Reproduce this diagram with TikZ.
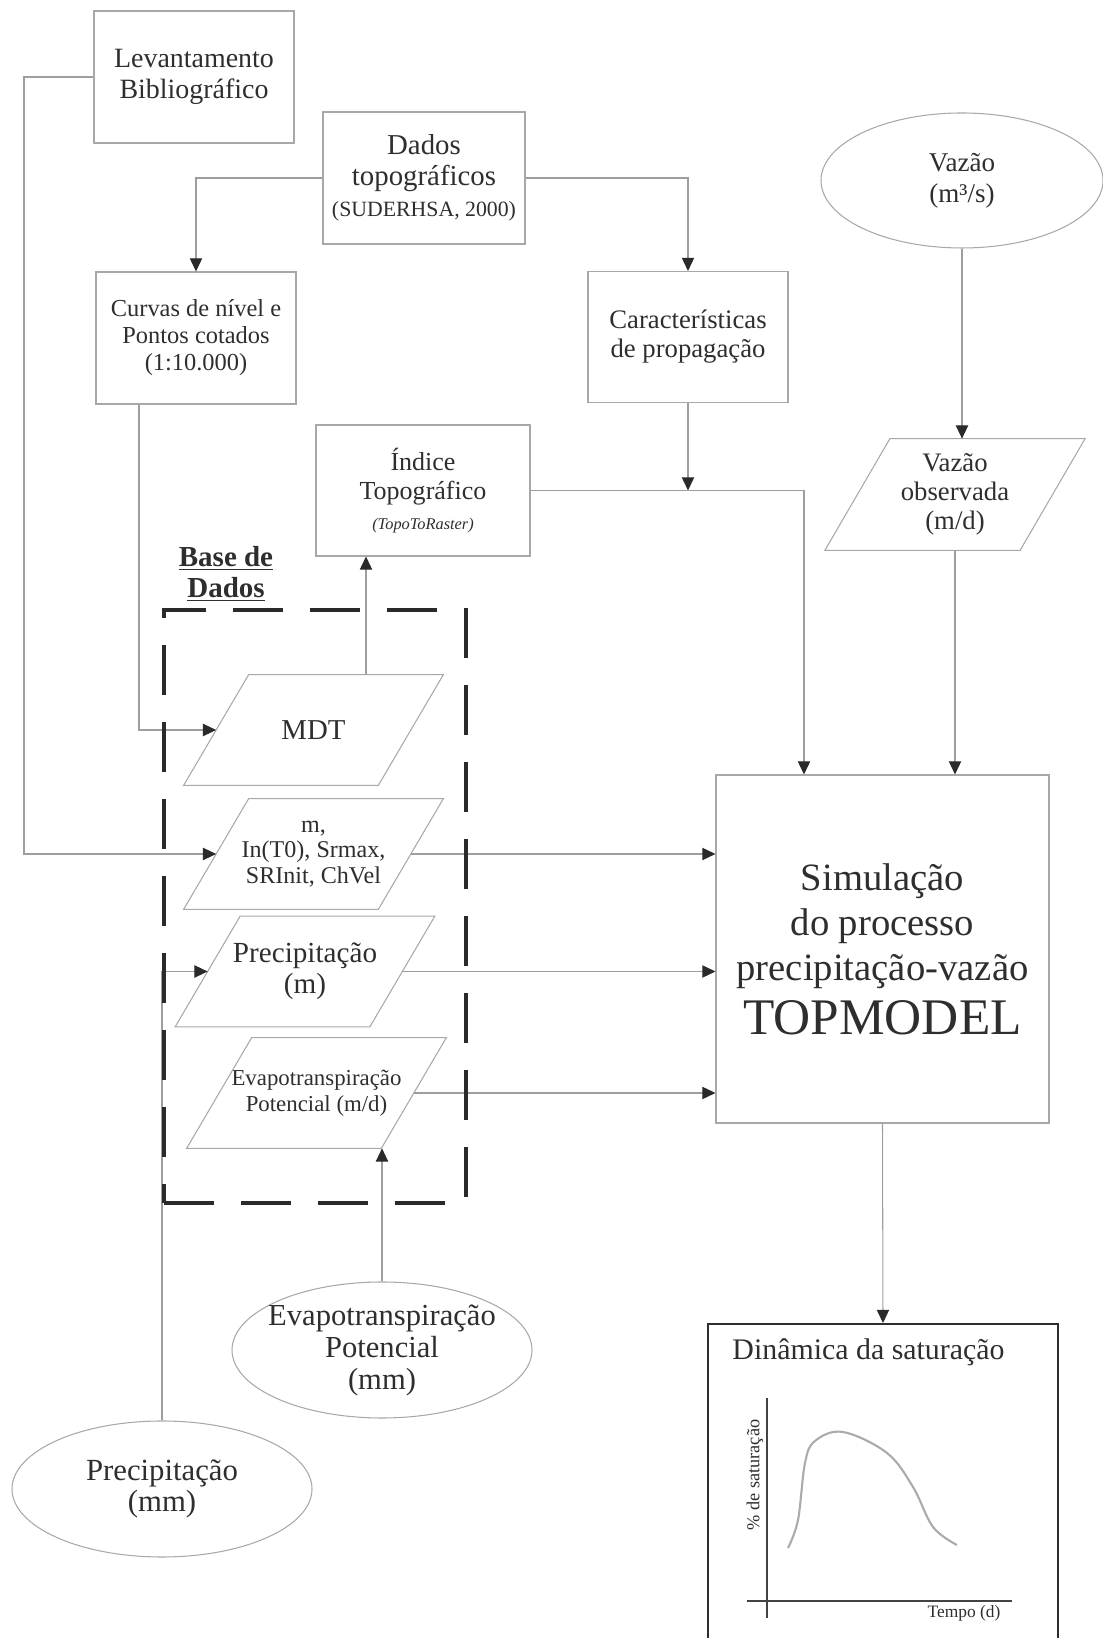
\documentclass[tikz,border=0pt]{standalone}
\usepackage{fontspec}
\setmainfont{Liberation Serif}
\usetikzlibrary{arrows.meta, shapes.geometric, calc}
\definecolor{ink}{HTML}{2E2E2E}
\definecolor{boxgray}{HTML}{A8A8A8}
\definecolor{linegray}{HTML}{9E9E9E}
\definecolor{tipdark}{HTML}{2A2A2A}
\definecolor{curvegray}{HTML}{ABABAB}
\newcommand{\fsz}[2]{\fontsize{#1}{#2}\selectfont}
% parallelogram drawn round a data node
\newcommand{\slantframe}[1]{\draw[lean] ([xshift=-0.65cm]#1.south west) -- ([xshift=-0.65cm]#1.south east)
  -- ([xshift=0.65cm]#1.north east) -- ([xshift=0.65cm]#1.north west) -- cycle;}
\tikzset{
  proc/.style={rectangle, draw=boxgray, line width=0.6pt, text=ink, align=center, inner sep=0pt},
  datain/.style={rectangle, text=ink, align=center, inner sep=0pt,
                 minimum width=3.88cm, minimum height=2.2cm},
  source/.style={ellipse, draw=boxgray, line width=0.6pt, text=ink, align=center, inner sep=0pt},
  flow/.style={-{Triangle[length=7.5pt, width=7pt, color=tipdark]}, draw=linegray, line width=0.6pt},
  dbframe/.style={rectangle, draw=tipdark, line width=2pt, dash pattern=on 1cm off 0.54cm},
  result/.style={rectangle, draw=ink, line width=1.4pt},
  chartaxis/.style={draw=ink!90, line width=0.9pt},
  lean/.style={draw=boxgray, line width=0.6pt},
  lbl/.style={text=ink, align=center, inner sep=0pt},
}
\begin{document}
\begin{tikzpicture}
  \useasboundingbox (0,0) rectangle (22.04,32.76);

  % --- top boxes ---
  \node[proc, minimum width=4.0cm, minimum height=2.64cm, font=\fsz{15.9}{17.8}] (lev) at (3.88,31.22)
    {Levantamento\\ Bibliográfico};
  \node[proc, minimum width=4.04cm, minimum height=2.64cm, font=\fsz{16.4}{17.8}] (dados) at (8.48,29.20)
    {Dados\\ topográficos\\ {\fsz{12.4}{13}(SUDERHSA, 2000)}};
  \node[proc, minimum width=4.0cm, minimum height=2.64cm, font=\fsz{13.9}{15.4}] (curvas) at (3.92,26.00)
    {Curvas de nível e\\ Pontos cotados\\ (1:10.000)};
  \node[proc, minimum width=4.0cm, minimum height=2.62cm, font=\fsz{15.2}{16.6}] (carac) at (13.76,26.02)
    {Características\\ de propagação};
  \node[proc, minimum width=4.28cm, minimum height=2.62cm, font=\fsz{14.8}{17}] (idx) at (8.46,22.95)
    {Índice\\ Topográfico\\ {\fsz{9.3}{11}\itshape(TopoToRaster)}};
  \node[source, minimum width=5.64cm, minimum height=2.70cm, font=\fsz{15.4}{17.8}] (vaz) at (19.24,29.15)
    {Vazão\\ (m³/s)};
  \node[datain, minimum width=3.89cm, minimum height=2.22cm, font=\fsz{15.2}{16.6}] (vobs) at (19.10,22.87)
    {Vazão\\ observada\\ (m/d)};
  \slantframe{vobs}

  % --- base de dados ---
  \node[lbl, font=\fsz{16.5}{18}\bfseries] (basetit) at (4.52,21.28) {\underline{Base de}\\ \underline{Dados}};
  \node[datain, font=\fsz{16.4}{18}] (mdt) at (6.27,18.16) {MDT};
  \node[datain, font=\fsz{13.7}{14.6}] (mpar) at (6.27,15.68) {m,\\ In(T0), Srmax,\\ SRInit, ChVel};
  \node[datain, font=\fsz{16.6}{17.8}] (ppar) at (6.10,13.33) {Precipitação\\ (m)};
  \node[datain, font=\fsz{13}{14.8}] (epar) at (6.33,10.90) {Evapotranspiração\\ Potencial (m/d)};
  \foreach \n in {mdt, mpar, ppar, epar} {\slantframe{\n}}

  % --- model and result ---
  \node[proc, minimum width=6.66cm, minimum height=6.96cm, font=\fsz{22}{25.6}] (sim) at (17.65,13.78)
    {Simulação\\ do processo\\ precipitação-vazão\\[5pt] {\fsz{29.2}{26}TOPMODEL}};
  \node[result, minimum width=7.0cm, minimum height=6.8cm, anchor=north] (dyn) at (17.66,6.30) {};
  \node[lbl, font=\fsz{17}{19}] (dyntit) at (17.37,5.72) {Dinâmica da saturação};

  % --- sources below ---
  \node[source, minimum width=6.0cm, minimum height=2.72cm] (eva) at (7.64,5.76) {};
  \node[lbl, font=\fsz{17.4}{18.2}] (evatxt) at (eva) {Evapotranspiração\\ Potencial\\ (mm)};
  \node[source, minimum width=6.0cm, minimum height=2.72cm, font=\fsz{17.5}{17.6}] (prec) at (3.24,2.98)
    {Precipitação\\ (mm)};

  % --- connectors ---
  \coordinate (levbend) at (0.48,31.22);
  \draw[flow] (lev.west) -- (levbend) |- (mpar.west);
  \draw[flow] (dados.west) -| (curvas.north);
  \draw[flow] (dados.east) -| (carac.north);
  \draw[flow] ([xshift=-1.14cm]curvas.south) |- (mdt.west);
  \draw[flow] (carac.south) -- (carac.south |- idx.east);
  \draw[flow] (idx.east) -| ([xshift=-1.57cm]sim.north);
  \draw[flow] ([xshift=1.05cm]mdt.north) -- ([xshift=1.05cm]mdt.north |- idx.south);
  \draw[flow] (vaz.south) -- (vaz.south |- vobs.north);
  \draw[flow] (vobs.south) -- (vobs.south |- sim.north);
  \draw[flow] (mpar.east) -- (mpar.east -| sim.west);
  \draw[flow] (ppar.east) -- (ppar.east -| sim.west);
  \draw[flow] (epar.east) -- (epar.east -| sim.west);
  \draw[flow] (prec.north) |- (ppar.west);
  \draw[flow] (eva.north) -- (eva.north |- epar.south);
  \draw[flow] (sim.south) -- (dyn.north);

  % --- dashed frame of the data base ---
  \node[dbframe, minimum width=6.04cm, minimum height=11.86cm] (base) at (6.30,14.63) {};

  % --- saturation chart ---
  \draw[chartaxis] (15.34,4.80) -- (15.34,0.40);
  \draw[chartaxis] (14.94,0.74) -- (20.24,0.74);
  \draw[curvegray, line width=1.2pt] plot[smooth, tension=0.6] coordinates
    {(15.76,1.80) (15.96,2.36) (16.10,3.50) (16.30,3.94) (16.86,4.12) (17.74,3.70) (18.26,3.02) (18.66,2.22) (19.14,1.86)};
  \node[lbl, font=\fsz{9.9}{11}] (tempo) at (19.28,0.50) {Tempo (d)};
  \node[lbl, font=\fsz{10.4}{12}, rotate=90] (satur) at (15.10,3.26) {\% de saturação};
\end{tikzpicture}
\end{document}
